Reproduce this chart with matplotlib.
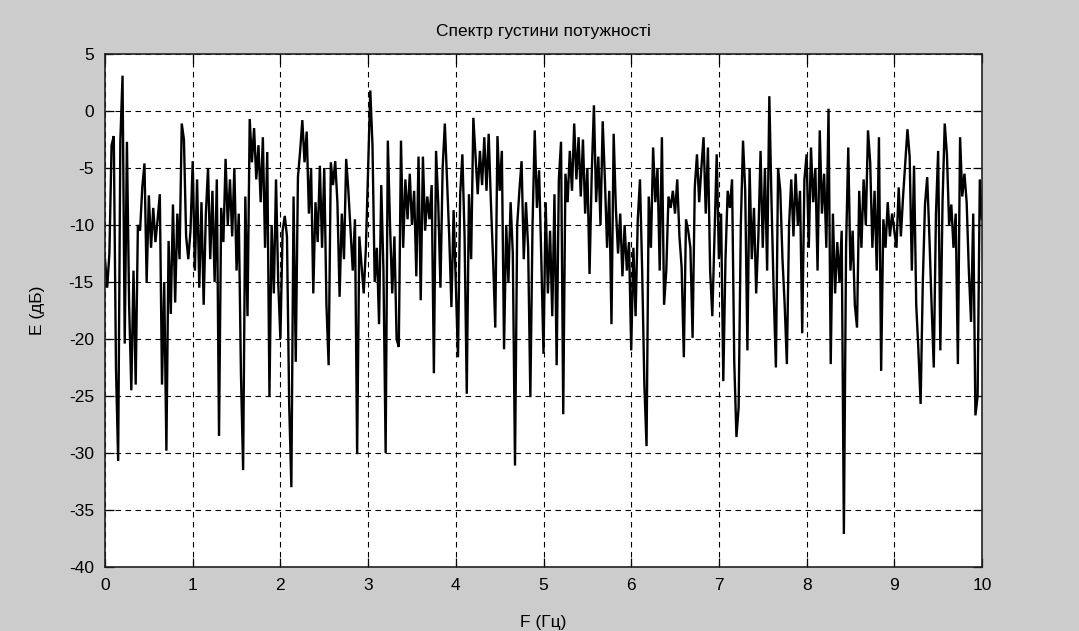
import numpy as np
import matplotlib
matplotlib.use("Agg")
import matplotlib.pyplot as plt
from matplotlib import font_manager

# ---- data (dB values, 0.025 Hz step, 0..10 Hz) ----
f_start = 0.0
f_stop = 10.0
psd_db = [
    # 0 - 1 Hz
    -13, -15.5, -12.5, -3, -2.2, -22.5, -30.7, -2.6, 3.1, -20.4,
    -2.7, -17, -24.5, -14, -24, -10, -10.5, -6.7, -4.6, -15,
    -7.4, -12, -8.5, -11.5, -9.5, -7.3, -24, -15, -29.8, -11.4,
    -17.8, -8.2, -16.8, -9, -13, -1.1, -2.5, -11, -13, -10.5,
    # 1 - 2 Hz
    -4.4, -14, -6, -15.5, -8, -17, -9, -5, -13, -7,
    -15, -6, -28.5, -8.5, -11.5, -4.2, -10, -6, -11, -5,
    -14, -9, -23, -31.5, -7.5, -18, -0.7, -4.5, -1.5, -6,
    -3, -8, -2.3, -12, -3.6, -25.1, -10, -16, -6, -15,
    # 2 - 3 Hz
    -20, -10.5, -9.2, -11, -25.7, -33, -7.5, -22, -5.8, -3.5,
    -0.8, -4.5, -1.8, -9, -5, -16, -8, -11.5, -4.8, -12,
    -5, -17, -22.3, -4.5, -6.5, -4.4, -8, -16.3, -9, -13,
    -4.2, -7, -10.5, -14, -9.5, -30.1, -11, -13.5, -16, -12,
    # 3 - 4 Hz
    -5, 1.8, -3, -15, -12, -18.7, -6.5, -14, -30, -2.6,
    -10, -16, -11, -20, -20.7, -2.6, -12, -6, -9.5, -5.5,
    -10, -7, -14.5, -4, -16.6, -4, -10.5, -7.5, -9.5, -6.5,
    -23, -3.5, -8.2, -15.5, -5, -1.1, -6, -11, -17.2, -8.7,
    # 4 - 5 Hz
    -15, -21.6, -7.3, -3.8, -11, -24.8, -7.3, -13, -0.6, -4,
    -7.3, -3.5, -6.5, -2.3, -7, -2, -8, -13, -19, -2.2,
    -7, -3.5, -20.9, -10, -15, -8, -12.5, -31.1, -10, -7,
    -4.4, -13, -8, -12, -25.1, -10, -1.7, -8.5, -5.2, -13,
    # 5 - 6 Hz
    -21.3, -8, -16, -10.5, -18, -7.3, -22.3, -6, -2.7, -26.6,
    -5.5, -8, -3.5, -7, -1.1, -6, -2.3, -7.5, -2.5, -9,
    -5, -14.3, -5.5, 0.5, -8, -4, -10, -0.9, -6, -12,
    -7, -18.7, -2, -8.5, -12.5, -9, -14.5, -10, -14, -11.5,
    # 6 - 7 Hz
    -21, -12, -18, -9.5, -6, -14, -24, -29.4, -7.5, -12,
    -3.2, -8, -5, -14, -2.3, -17, -14, -7.5, -8.5, -7,
    -9, -6, -11, -13.7, -21.6, -9.5, -10.5, -12, -19.9, -6.7,
    -3.8, -8, -5, -2.3, -9, -3.2, -14, -18, -11, -3.8,
    # 7 - 8 Hz
    -13, -9, -23.7, -13, -7, -8.5, -6, -22, -28.6, -26,
    -10, -2.6, -7, -21, -5, -13, -8.5, -16, -11, -3.5,
    -12, -5, -14, 1.3, -8, -16, -22.5, -5, -7, -13,
    -17, -22.2, -10, -6, -11, -5.5, -10, -7, -19.5, -6,
    # 8 - 9 Hz
    -3.8, -12, -3.2, -8, -5, -14, -1.7, -9, -5.5, -12,
    0.2, -22.2, -9, -16, -11.5, -15, -10.5, -37.1, -12, -3.2,
    -14, -10.5, -17, -19, -7, -12, -6, -10, -1.7, -4.5,
    -12, -7, -14, -2.3, -22.8, -9.5, -12, -8, -11, -9,
    # 9 - 10 Hz
    -10.5, -12, -6.7, -11, -7.5, -4.5, -1.6, -4, -14, -4.8,
    -17, -21, -25.7, -15, -8.2, -5.8, -11, -17, -22.5, -9,
    -3.5, -21, -8, -1.1, -3.8, -10, -8.2, -12, -9, -22.2,
    -2.3, -7.5, -5.5, -8, -14, -18.5, -9, -26.7, -25, -6,
    -9.5,
]
x_ticks = [0, 1, 2, 3, 4, 5, 6, 7, 8, 9, 10]
y_ticks = [5, 0, -5, -10, -15, -20, -25, -30, -35, -40]
title_text = "Спектр густини потужності"
x_label = "F (Гц)"
y_label = "E (дБ)"

freq = np.linspace(f_start, f_stop, len(psd_db))

# ---- fonts ----
available = {f.name for f in font_manager.fontManager.ttflist}
fam = "Liberation Sans Narrow" if "Liberation Sans Narrow" in available else "Liberation Sans"
plt.rcParams["font.family"] = [fam, "DejaVu Sans"]
plt.rcParams["axes.unicode_minus"] = False
fs = 13.5 if fam == "Liberation Sans Narrow" else 12.5

fig = plt.figure(figsize=(10.79, 6.31), dpi=100, facecolor="#cccccc")
ax = fig.add_axes([105 / 1079, 1 - 567 / 631, (982 - 105) / 1079, (567 - 54) / 631])
ax.set_facecolor("white")

ax.plot(freq, psd_db, color="black", linewidth=1.7, solid_joinstyle="miter")

ax.set_xlim(0, 10)
ax.set_ylim(-40, 5)
ax.set_xticks(x_ticks)
ax.set_yticks(y_ticks)
ax.grid(True, color="black", linestyle=(0, (5, 4)), linewidth=0.8)
ax.tick_params(direction="in", length=6.5, width=0.9, top=True, right=True,
               labelsize=fs, colors="black", pad=8)
for s in ax.spines.values():
    s.set_linewidth(1.2)
    s.set_color("#222222")

ax.set_title(title_text, fontsize=fs, pad=13)
ax.set_xlabel(x_label, fontsize=fs, labelpad=16)
ax.set_ylabel(y_label, fontsize=fs, labelpad=17)

fig.savefig("out.png", dpi=100, facecolor=fig.get_facecolor())
